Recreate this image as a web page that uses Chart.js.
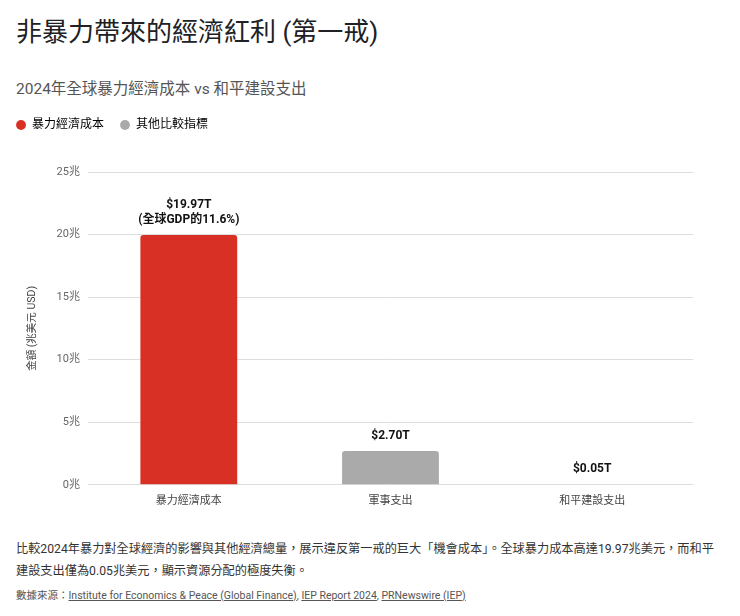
<!DOCTYPE html>
<html>
<head>
<meta charset="utf-8">
<script src="https://cdn.jsdelivr.net/npm/chart.js@4/dist/chart.umd.min.js"></script>
<style>
  body { margin: 0; background: #fff; font-family: Roboto, "Noto Sans CJK TC", sans-serif; width: 740px; height: 616px; overflow: hidden; position: relative; }
  h1 { position: absolute; left: 16px; top: 11px; margin: 0; font-size: 26px; font-weight: 400; color: #202124; }
  h2 { position: absolute; left: 16px; top: 76px; margin: 0; font-size: 15.5px; font-weight: 400; color: #555; }
  #box { position: absolute; left: 10px; top: 108px; width: 714px; height: 402px; }
  .desc { position: absolute; left: 16px; top: 538px; width: 704px; margin: 0; font-size: 12.2px; line-height: 22px; color: #333; }
  .src { position: absolute; left: 16px; top: 587px; margin: 0; font-size: 10.5px; color: #555; }
  .src a { color: #555; text-decoration: underline; }
</style>
</head>
<body>
<h1>非暴力帶來的經濟紅利 (第一戒)</h1>
<h2>2024年全球暴力經濟成本 vs 和平建設支出</h2>
<div id="box"><canvas id="bar-chart"></canvas></div>
<p class="desc">比較2024年暴力對全球經濟的影響與其他經濟總量，展示違反第一戒的巨大「機會成本」。全球暴力成本高達19.97兆美元，而和平建設支出僅為0.05兆美元，顯示資源分配的極度失衡。</p>
<p class="src">數據來源：<a>Institute for Economics &amp; Peace (Global Finance)</a>, <a>IEP Report 2024</a>, <a>PRNewswire (IEP)</a></p>
<script>
var categories = ['暴力經濟成本', '軍事支出', '和平建設支出'];
var values = [19.97, 2.70, 0.05];
var valueLabels = [['$19.97T', '(全球GDP的11.6%)'], ['$2.70T'], ['$0.05T']];
var barColors = ['#D93025', '#AAAAAA', '#AAAAAA'];
var legendNames = ['暴力經濟成本', '其他比較指標'];
var legendColors = ['#D93025', '#AAAAAA'];

var cjkFont = 'Roboto, "Noto Sans CJK TC", sans-serif';

// labels above each bar
var topLabels = {
    id: 'topLabels',
    afterDatasetsDraw: function (chart) {
        var ctx = chart.ctx;
        var meta = chart.getDatasetMeta(0);
        ctx.save();
        ctx.fillStyle = '#111';
        ctx.font = 'bold 12px ' + cjkFont;
        ctx.textAlign = 'center';
        ctx.textBaseline = 'bottom';
        meta.data.forEach(function (bar, i) {
            var lines = valueLabels[i];
            for (var j = 0; j < lines.length; j++) {
                var y = bar.y - 9 - (lines.length - 1 - j) * 15;
                ctx.fillText(lines[j], bar.x, y);
            }
        });
        ctx.restore();
    }
};

// extra room between legend and plot, legend pulled to the page edge
var legendGap = {
    id: 'legendGap',
    beforeInit: function (chart) {
        var fit = chart.legend.fit;
        chart.legend.fit = function () {
            fit.bind(chart.legend)();
            this.height += 26;
        };
    },
    afterLayout: function (chart) {
        chart.legend.left -= 22;
        chart.legend.top -= 5;
    }
};

new Chart('bar-chart', {
    type: 'bar',
    data: {
        labels: categories,
        datasets: [{
            data: values,
            backgroundColor: barColors,
            borderRadius: { topLeft: 3, topRight: 3 },
            borderSkipped: 'bottom',
            categoryPercentage: 0.8,
            barPercentage: 0.6
        }]
    },
    options: {
        responsive: true,
        maintainAspectRatio: false,
        animation: false,
        layout: { padding: { left: 12, right: 31, top: 0, bottom: 0 } },
        plugins: {
            legend: {
                display: true,
                position: 'top',
                align: 'start',
                labels: {
                    usePointStyle: true,
                    pointStyle: 'circle',
                    boxWidth: 10,
                    boxHeight: 7,
                    padding: 16,
                    color: '#555',
                    font: { size: 12, family: cjkFont },
                    generateLabels: function () {
                        return legendNames.map(function (n, i) {
                            return { text: n, fillStyle: legendColors[i], strokeStyle: legendColors[i], lineWidth: 0, pointStyle: 'circle', datasetIndex: 0 };
                        });
                    }
                },
                onClick: function () {}
            },
            tooltip: { enabled: false }
        },
        scales: {
            x: {
                grid: { display: false },
                border: { display: false },
                ticks: { color: '#444', font: { size: 11, family: cjkFont }, padding: 2 }
            },
            y: {
                min: 0,
                max: 25,
                ticks: {
                    stepSize: 5,
                    color: '#666',
                    font: { size: 11, family: cjkFont },
                    padding: 8,
                    callback: function (v) { return v + '兆'; }
                },
                grid: { color: '#dddddd', drawTicks: false },
                border: { display: false },
                title: {
                    display: true,
                    text: '金額 (兆美元 USD)',
                    color: '#444',
                    font: { size: 10.5, family: cjkFont },
                    padding: { bottom: 10 }
                }
            }
        }
    },
    plugins: [topLabels, legendGap]
});
</script>
</body>
</html>
